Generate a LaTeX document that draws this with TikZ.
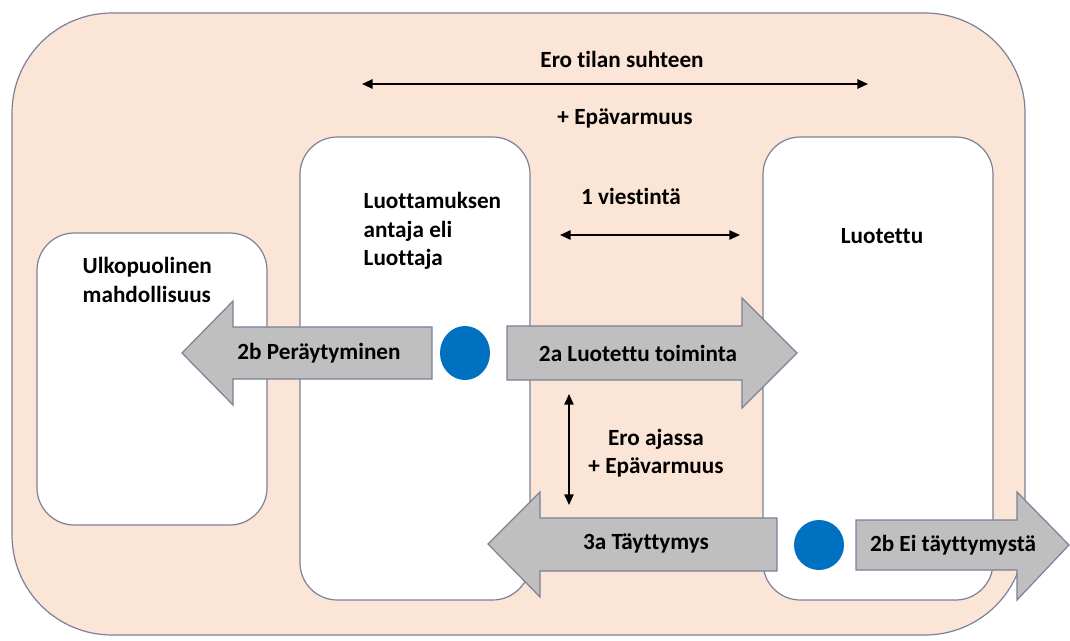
\documentclass[tikz,border=0pt]{standalone}
\usepackage{fontspec}
\setmainfont{Carlito}[Ligatures=NoCommon]
\usetikzlibrary{arrows.meta}

\definecolor{peach}{RGB}{251,229,214}
\definecolor{framegray}{RGB}{124,128,152}
\definecolor{arrowgray}{RGB}{191,191,191}
\definecolor{dotblue}{RGB}{0,112,192}

\def\outerframe{(12,13) rectangle (1025,635)}
\def\outsidebox{(37,233) rectangle (267,525)}
\def\trustorbox{(300,137) rectangle (530,600)}
\def\trusteebox{(763,137) rectangle (993,600)}
\def\withdrawarrow{(432,327) -- (233,327) -- (233,301) -- (182,353) -- (233,405) -- (233,379) -- (432,379) -- cycle}
\def\actionarrow{(507,326) -- (742,326) -- (742,298) -- (797,353) -- (742,408) -- (742,380) -- (507,380) -- cycle}
\def\fulfilarrow{(777,518) -- (540,518) -- (540,492) -- (488,544) -- (540,597) -- (540,571) -- (777,571) -- cycle}
\def\failarrow{(856,520) -- (1017,520) -- (1017,492) -- (1069,545) -- (1017,600) -- (1017,570) -- (856,570) -- cycle}

\tikzset{
  lbl/.style={font=\fontsize{17.4}{21.4}\selectfont\bfseries},
  panel/.style={draw=framegray, line width=0.9pt, fill=white, rounded corners=28pt},
  blockarrow/.style={draw=framegray, line width=0.9pt, fill=arrowgray},
  span/.style={line width=1.5pt, {Triangle[length=8pt,width=7pt]}-{Triangle[length=8pt,width=7pt]}},
}

\begin{document}
\begin{tikzpicture}[x=0.75pt, y=-0.75pt]
  \useasboundingbox (0,0) rectangle (1070,641);
  \draw[draw=framegray, line width=0.9pt, fill=peach, rounded corners=75pt] \outerframe;
  \draw[panel] \outsidebox;
  \draw[panel] \trustorbox;
  \draw[panel] \trusteebox;

  % top: distance in space
  \node[lbl] (space) at (622,59) {Ero tilan suhteen};
  \node[lbl] (spaceunc) at (625,118) {+ Epävarmuus};
  \coordinate (spaceL) at (362,84);
  \coordinate (spaceR) at (868,84);
  \draw[span] (spaceL) -- (spaceR);

  % communication
  \node[lbl] (comm) at (631,196) {1 viestintä};
  \coordinate (commL) at (560,235);
  \coordinate (commR) at (740,235);
  \draw[span, line width=1.2pt] (commL) -- (commR);

  \node[lbl, anchor=west, align=left] (trustor) at (359,231) {Luottamuksen\\antaja eli\\Luottaja};
  \node[lbl, anchor=west, align=left] (outside) at (78,280) {Ulkopuolinen\\mahdollisuus};
  \node[lbl] (trustee) at (882,236) {Luotettu};

  % block arrows
  \draw[blockarrow] \withdrawarrow;
  \draw[blockarrow] \actionarrow;
  \draw[blockarrow] \fulfilarrow;
  \draw[blockarrow] \failarrow;
  \node[lbl] (withdraw) at (319,353) {2b Peräytyminen};
  \node[lbl] (action) at (638,353) {2a Luotettu toiminta};
  \node[lbl] (fulfil) at (646,543) {3a Täyttymys};
  \node[lbl] (fail) at (953,545) {2b Ei täyttymystä};

  % decision points
  \fill[dotblue] (465,353) ellipse (25 and 27);
  \fill[dotblue] (819,545) ellipse (25 and 25);

  % distance in time
  \coordinate (timeT) at (569,394);
  \coordinate (timeB) at (569,505);
  \draw[span, line width=1.2pt] (timeT) -- (timeB);
  \node[lbl, align=center] (time) at (656,453) {Ero ajassa\\+ Epävarmuus};
\end{tikzpicture}
\end{document}
